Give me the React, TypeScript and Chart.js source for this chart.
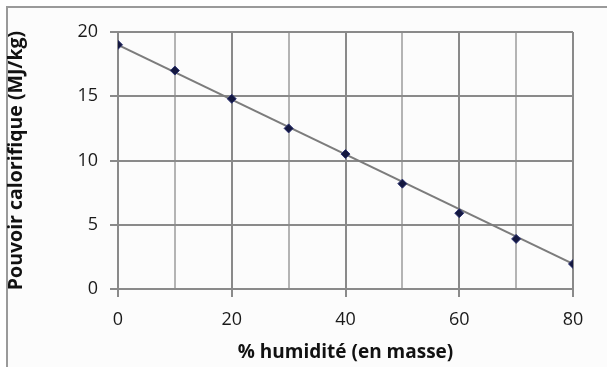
import React, { useEffect, useRef } from "react";
import { Chart, registerables } from "chart.js";

Chart.register(...registerables);

const humidity = [0, 10, 20, 30, 40, 50, 60, 70, 80];
const calorific = [19.0, 17.0, 14.8, 12.5, 10.5, 8.2, 5.9, 3.9, 1.95];
const trendX = [0, 80];
const trendY = [19.0, 1.95];
const xTitle = "% humidité (en masse)";
const yTitle = "Pouvoir calorifique (MJ/kg)";

const FONT = "'Open Sans', 'Noto Sans', sans-serif";

export default function App() {
  const ref = useRef<HTMLCanvasElement | null>(null);

  useEffect(() => {
    if (!ref.current) return;
    const chart = new Chart(ref.current, {
      type: "scatter",
      data: {
        datasets: [
          {
            label: "points",
            data: humidity.map((x, i) => ({ x, y: calorific[i] })),
            showLine: false,
            pointStyle: "rectRot",
            pointRadius: 4.5,
            pointBackgroundColor: "#141840",
            pointBorderColor: "#2a3070",
            pointBorderWidth: 1,
            order: 0,
          },
          {
            label: "trend",
            data: trendX.map((x, i) => ({ x, y: trendY[i] })),
            showLine: true,
            borderColor: "#7c7c7c",
            borderWidth: 2,
            pointRadius: 0,
            order: 1,
          },
        ],
      },
      options: {
        animation: false,
        responsive: false,
        layout: { padding: { top: 32, right: 34, left: 0, bottom: 0 } },
        plugins: { legend: { display: false }, tooltip: { enabled: false } },
        scales: {
          x: {
            type: "linear",
            min: 0,
            max: 80,
            afterFit: (s: any) => {
              s.height = 78;
            },
            ticks: {
              stepSize: 10,
              color: "#1a1a1a",
              font: { family: FONT, size: 18 },
              padding: 12,
              maxRotation: 0,
              autoSkip: false,
              callback: (v: any) => (Number(v) % 20 === 0 ? String(v) : ""),
            },
            grid: {
              color: (c: any) =>
                c.tick && c.tick.value % 20 === 0 ? "#8a8a8a" : "#b4b4b4",
              tickColor: (c: any) =>
                c.tick && c.tick.value % 20 === 0 ? "#8a8a8a" : "rgba(0,0,0,0)",
              lineWidth: 2,
              tickLength: 8,
            },
            border: { display: true, color: "#8a8a8a", width: 2 },
            title: {
              display: true,
              text: xTitle,
              color: "#111",
              font: { family: FONT, size: 19, weight: "bold" },
              padding: { top: 0, bottom: 3 },
            },
          },
          y: {
            type: "linear",
            min: 0,
            max: 20,
            afterFit: (s: any) => {
              s.width = 118;
            },
            ticks: {
              stepSize: 5,
              color: "#1a1a1a",
              font: { family: FONT, size: 18 },
              padding: 12,
            },
            grid: {
              color: "#8a8a8a",
              tickColor: "#8a8a8a",
              lineWidth: 2,
              tickLength: 8,
            },
            border: { display: true, color: "#8a8a8a", width: 2 },
            title: {
              display: true,
              text: yTitle,
              color: "#111",
              font: { family: FONT, size: 19.5, weight: "bold" },
              padding: { top: 5, bottom: 0 },
            },
          },
        },
      },
    });
    return () => chart.destroy();
  }, []);

  return (
    <div
      style={{
        position: "fixed",
        left: 0,
        top: 0,
        width: 607,
        height: 367,
        background: "#ffffff",
        overflow: "hidden",
      }}
    >
      <div
        style={{
          position: "absolute",
          left: 6,
          top: 6,
          width: 640,
          height: 400,
          borderLeft: "2px solid #9a9a9a",
          borderTop: "2px solid #9a9a9a",
          background: "#fcfcfc",
        }}
      />
      <canvas
        ref={ref}
        width={607}
        height={367}
        style={{ position: "absolute", left: 0, top: 0, width: 607, height: 367 }}
      />
    </div>
  );
}
